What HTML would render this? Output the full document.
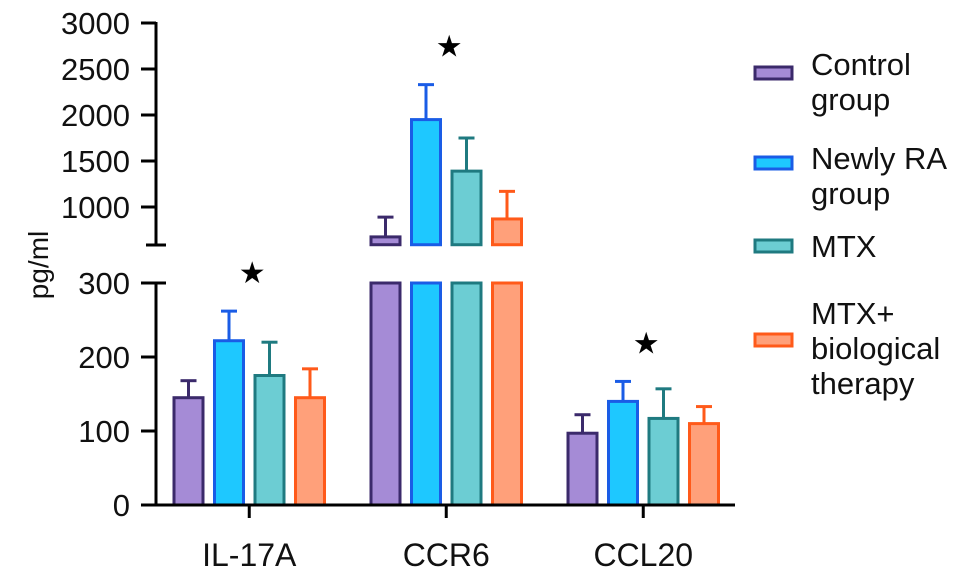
<!DOCTYPE html>
<html><head><meta charset="utf-8"><style>
body{margin:0;background:#fff;}
svg{display:block;font-family:"Liberation Sans",Arial,sans-serif;}
</style></head><body>
<svg id="chart" width="969" height="579" viewBox="0 0 969 579" xmlns="http://www.w3.org/2000/svg"></svg>
<script>
const categories = ["IL-17A","CCR6","CCL20"];
const seriesNames = ["Control group","Newly RA group","MTX","MTX+ biological therapy"];
const controlVals = [145, 675, 97];
const controlErr = [168, 890, 122];
const newlyVals = [222, 1950, 140];
const newlyErr = [262, 2330, 167];
const mtxVals = [175, 1390, 117];
const mtxErr = [220, 1750, 157];
const bioVals = [145, 870, 110];
const bioErr = [184, 1170, 133];
const lowTicks = [0,100,200,300];
const highTicks = [1000,1500,2000,2500,3000];
const starCats = [0,1,2];

const fills = ["#a58bd6","#1ec8ff","#6ccdd3","#ffa07a"];
const strokes = ["#3b2a6b","#1a5ce6","#1f7a80","#ff5a1a"];
const vals = [controlVals,newlyVals,mtxVals,bioVals];
const errs = [controlErr,newlyErr,mtxErr,bioErr];

const svg = document.getElementById('chart');
const NS = "http://www.w3.org/2000/svg";
function mk(tag, attrs, parent){const e=document.createElementNS(NS,tag);for(const k in attrs)e.setAttribute(k,attrs[k]);(parent||svg).appendChild(e);return e;}

const AX = 156, BREAK_LO = 300, BREAK_HI = 590;
function yLow(v){return 505 - v*(222/300);}
function yHigh(v){return 207 - (v-1000)*(184/2000);}
function y(v){return v<=BREAK_LO ? yLow(v) : (v>=BREAK_HI ? yHigh(v) : 245);}
const groupX = [174, 371, 568];
function xBar(ci, si){return groupX[ci] + si*40.5;}
const BW = 29;

for(let s=0;s<4;s++){
  for(let c=0;c<categories.length;c++){
    const v = vals[s][c], e = errs[s][c], x = xBar(c,s);
    const ye = y(e), yv = y(v);
    const eb = mk('line',{x1:x+BW/2,x2:x+BW/2,y1:ye,y2:yv,stroke:strokes[s],'stroke-width':3});
    
    
    const cap = mk('line',{x1:x+BW/2-8,x2:x+BW/2+8,y1:ye,y2:ye,stroke:strokes[s],'stroke-width':3});
    
    
    if(v>BREAK_LO){
      const r1 = mk('rect',{x:x,y:yLow(BREAK_LO),width:BW,height:505-yLow(BREAK_LO),fill:fills[s],stroke:strokes[s],'stroke-width':3});
      
      
      const r2 = mk('rect',{x:x,y:yv,width:BW,height:Math.max(0,y(BREAK_HI)-yv),fill:fills[s],stroke:strokes[s],'stroke-width':3});
      
      
    } else {
      const r = mk('rect',{x:x,y:yv,width:BW,height:505-yv,fill:fills[s],stroke:strokes[s],'stroke-width':3});
      
      
    }
  }
}
const ax1 = mk('line',{x1:AX,x2:AX,y1:22,y2:245,stroke:'#000','stroke-width':3});


const ax2 = mk('line',{x1:AX,x2:AX,y1:283,y2:506,stroke:'#000','stroke-width':3});


const xa = mk('line',{x1:141,x2:735,y1:505,y2:505,stroke:'#000','stroke-width':3});


[245,283].forEach(yy=>{
  const b = mk('line',{x1:146,x2:166,y1:yy,y2:yy,stroke:'#000','stroke-width':3});
  
  
});
function tick(yy,label){
  const t = mk('line',{x1:141,x2:AX,y1:yy,y2:yy,stroke:'#000','stroke-width':3});
  
  
  const tx = mk('text',{x:130,y:yy+11,'text-anchor':'end',style:'font-size:31px',fill:'#111'});
  tx.textContent = label;
  
  
}
lowTicks.forEach(v=>tick(yLow(v),v));
highTicks.forEach(v=>tick(yHigh(v),v));
categories.forEach((c,i)=>{
  const cx = xBar(i,0) + (3*40.5+BW)/2;
  const t = mk('line',{x1:cx,x2:cx,y1:505,y2:518,stroke:'#000','stroke-width':3});
  
  
  const tx = mk('text',{x:cx,y:566,'text-anchor':'middle',style:'font-size:32px',fill:'#111'});
  tx.textContent = c;
  
  
});
starCats.forEach(i=>{
  const m = Math.max(errs[0][i],errs[1][i],errs[2][i],errs[3][i]);
  const cx = xBar(i,0) + (3*40.5+BW)/2;
  const sy = y(m) - 38;
  const tx = mk('text',{x:cx+3,y:sy+10,'text-anchor':'middle',style:'font-size:30px',fill:'#000'});
  tx.textContent = '★';
  
  
});
const yt = mk('text',{x:0,y:0,transform:'translate(48,265) rotate(-90)','text-anchor':'middle',style:'font-size:28px',fill:'#111'});
yt.textContent='pg/ml';


const legendLines = [["Control","group"],["Newly RA","group"],["MTX"],["MTX+","biological","therapy"]];
const legendBoxY = [73,163,246,340];
const legendTextY = [[64,99],[158,193],[246],[313,348,383]];
for(let s=0;s<4;s++){
  const g = mk('g',{});
  
  
  mk('rect',{x:755,y:legendBoxY[s]-6,width:37,height:12,fill:fills[s],stroke:strokes[s],'stroke-width':3},g);
  legendLines[s].forEach((ln,k)=>{
    const t = mk('text',{x:811,y:legendTextY[s][k]+11,style:'font-size:31px',fill:'#111'},g);
    t.textContent = ln;
  });
}
</script>
</body></html>
